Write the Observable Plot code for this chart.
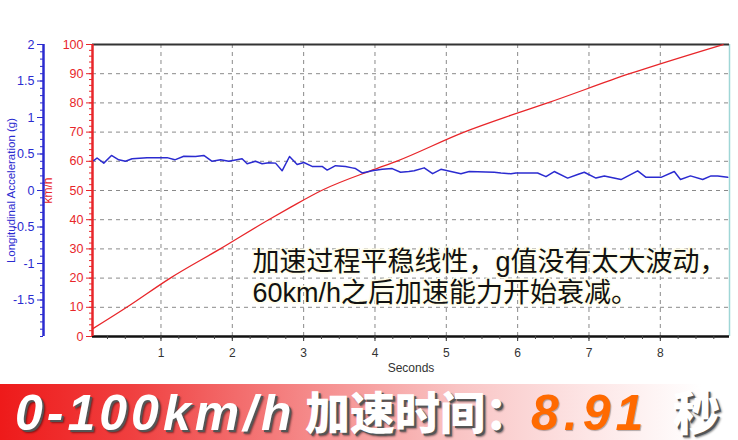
<!DOCTYPE html>
<html><head><meta charset="utf-8">
<script src="https://cdn.jsdelivr.net/npm/d3@7"></script>
<script src="https://cdn.jsdelivr.net/npm/@observablehq/plot@0.6"></script>
<style>
body{margin:0;background:#fff;width:738px;height:440px;overflow:hidden;position:relative;font-family:"Liberation Sans",Arial,sans-serif}
#chart{position:absolute;left:0;top:0}
#banner{position:absolute;left:0;top:384px;width:738px;height:56px;overflow:hidden;
background:linear-gradient(to right,#ee1a1a 0%,#f04040 18%,#f58a8a 42%,#f9c4c4 62%,#fde6e6 80%,#ffffff 95%)}
.b{position:absolute;white-space:nowrap;font-weight:bold;font-style:italic;
text-shadow:2px 2px 0 #555,3px 3px 2px rgba(0,0,0,.45)}
.lat{font-family:"Liberation Sans",Arial,sans-serif;font-size:50px;line-height:50px;letter-spacing:4px}
.cjk{font-family:"Liberation Sans","Noto Sans CJK SC",sans-serif;font-weight:900;font-style:normal;font-size:45px;line-height:45px}
</style></head>
<body>
<div id="chart"></div>
<div id="banner">
  <span class="b lat" style="left:15px;top:4px;color:#fff">0-100km/h</span><span class="b cjk" style="left:305px;top:8px;color:#fff">加速时间：</span><span class="b lat" style="left:531px;top:4px;color:#ff6a00;letter-spacing:5px;text-shadow:1px 1px 1px rgba(0,0,0,.3)">8.91</span><span class="b cjk" style="left:673px;top:6px;color:#fff;font-size:47px;line-height:47px">秒</span>
</div>
<script>
// ---- data ----
const tRed   = [0.04, 0.52, 1.13, 1.83, 2.51, 2.82, 3.25, 4.0, 4.3, 5.25, 5.9, 6.42, 7.57, 8.88];
const kmhRed = [2.6, 10, 20, 30, 40, 44.3, 50, 57.3, 60, 70, 75.7, 80, 90, 100];
const tBlue = [0.058,0.104,0.198,0.306,0.408,0.502,0.595,0.805,1.086,1.194,1.320,1.484,1.600,1.717,1.835,1.951,2.137,2.208,2.325,2.418,2.512,2.606,2.698,2.802,2.909,3.003,3.119,3.259,3.330,3.447,3.588,3.680,3.728,3.820,3.961,4.101,4.241,4.359,4.475,4.550,4.690,4.808,4.924,5.018,5.205,5.321,5.672,5.766,5.906,5.976,6.280,6.397,6.513,6.701,6.841,6.934,7.098,7.215,7.449,7.683,7.800,8.010,8.196,8.283,8.423,8.594,8.711,8.805,8.945];
const gBlue = [0.41,0.445,0.375,0.48,0.42,0.40,0.434,0.45,0.45,0.42,0.47,0.466,0.48,0.40,0.42,0.40,0.434,0.366,0.40,0.366,0.38,0.375,0.27,0.466,0.356,0.384,0.33,0.33,0.28,0.34,0.33,0.31,0.30,0.24,0.27,0.29,0.30,0.25,0.26,0.27,0.31,0.23,0.29,0.27,0.23,0.26,0.25,0.24,0.23,0.24,0.24,0.19,0.26,0.17,0.22,0.25,0.17,0.20,0.15,0.27,0.18,0.18,0.26,0.15,0.20,0.15,0.20,0.20,0.18];
const kmhTicks = [0,10,20,30,40,50,60,70,80,90,100];
const gTicks = [2,1.5,1,0.5,0,-0.5,-1,-1.5];
const secTicks = [1,2,3,4,5,6,7,8];
const xLabel = "Seconds";
const gLabel = "Longitudinal Acceleration (g)";
const kmhLabel = "km/h";
const noteLines = ["加速过程平稳线性，g值没有太大波动，", "60km/h之后加速能力开始衰减。"];

// ---- build ----
const RED = "#e8262a", BLUE = "#2b2bd0";
const X0 = 0.04, X1 = 8.97;
const g2k = g => 50 + 25 * g;
const red = tRed.map((t, i) => ({t, v: kmhRed[i]}));
const blue = tBlue.map((t, i) => ({t, v: g2k(gBlue[i])}));
const minorG = d3.range(-20, 21).map(i => g2k(i / 10));
const fmtG = v => String(Math.round(v * 10) / 10);
const noteStyle = {frameAnchor: "top-left", dx: 160, text: d => d, textAnchor: "start", lineAnchor: "top",
  fontSize: 27, fill: "#111", fontFamily: "Liberation Sans, Noto Sans CJK SC, sans-serif", stroke: "#fffde8", strokeWidth: 3};

const chart = Plot.plot({
  width: 738, height: 384,
  marginLeft: 92, marginRight: 9, marginTop: 44, marginBottom: 48,
  x: {domain: [X0, X1], label: null, axis: null},
  y: {domain: [0, 100], label: null, axis: null},
  style: {fontFamily: "Liberation Sans, Arial, sans-serif", fontSize: "12px", background: "white"},
  marks: [
    Plot.ruleX(secTicks, {stroke: "#8a8a8a", strokeDasharray: "4,4", strokeWidth: 1}),
    Plot.ruleY(kmhTicks.filter(d => d > 0 && d < 100), {stroke: "#8a8a8a", strokeDasharray: "4,4", strokeWidth: 1}),
    Plot.ruleX([X1], {stroke: "#9fd6d6", strokeWidth: 1.5}),
    Plot.ruleY([100], {stroke: "#333", strokeWidth: 2}),
    Plot.ruleY([0], {stroke: "#111", strokeWidth: 2.5}),
    // x axis
    Plot.axisX(d3.range(0.25, 9, 0.25), {anchor: "bottom", tickSize: 3, tickFormat: () => "", stroke: "#444"}),
    Plot.axisX(secTicks, {anchor: "bottom", tickSize: 5, tickPadding: 7, color: "#333", fontSize: 12}),
    Plot.text([xLabel], {frameAnchor: "bottom", dy: 35, text: d => d, fill: "#333", fontSize: 12}),
    // red km/h axis
    Plot.axisY(d3.range(0, 101, 2), {anchor: "left", tickSize: 3, tickFormat: () => "", color: RED}),
    Plot.axisY(kmhTicks, {anchor: "left", tickSize: 6, tickPadding: 3, color: RED, fontSize: 12.5}),
    Plot.ruleX([X0], {stroke: RED, strokeWidth: 2.5}),
    Plot.text([kmhLabel], {frameAnchor: "left", dx: -44, rotate: -90, textAnchor: "middle", text: d => d, fill: RED, fontSize: 12}),
    // blue g axis
    Plot.axisY(minorG, {anchor: "left", dx: -49, tickSize: 3, tickFormat: () => "", color: BLUE}),
    Plot.axisY(gTicks.map(g2k), {anchor: "left", dx: -49, tickSize: 6, tickPadding: 3, color: BLUE, fontSize: 12.5, tickFormat: d => fmtG((d - 50) / 25)}),
    Plot.ruleX([X0], {dx: -49, stroke: BLUE, strokeWidth: 2.5}),
    Plot.text([gLabel], {frameAnchor: "left", dx: -81, rotate: -90, textAnchor: "middle", text: d => d, fill: BLUE, fontSize: 11.5}),
    // data
    Plot.line(red, {x: "t", y: "v", stroke: RED, strokeWidth: 1.3, curve: "monotone-x"}),
    Plot.line(blue, {x: "t", y: "v", stroke: BLUE, strokeWidth: 1.5}),
    // note
    Plot.text(noteLines.slice(0, 1), {...noteStyle, dy: 207}),
    Plot.text(noteLines.slice(1), {...noteStyle, dy: 238})
  ]
});
document.getElementById("chart").appendChild(chart);
</script>
</body></html>
